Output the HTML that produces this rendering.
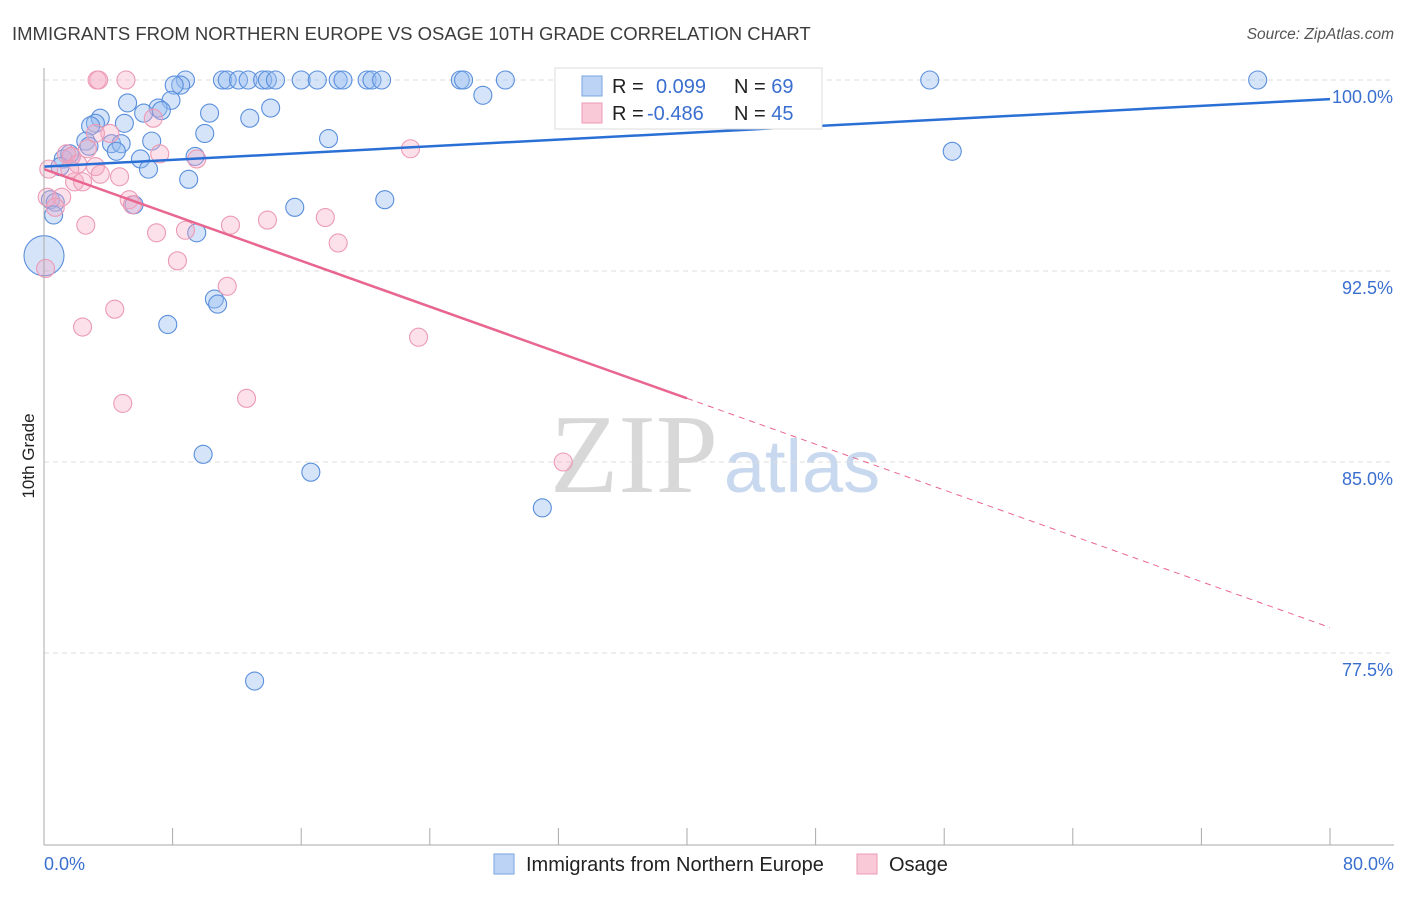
<!DOCTYPE html>
<html><head><meta charset="utf-8"><style>
body{margin:0;background:#fff;font-family:"Liberation Sans",sans-serif}
svg text{font-family:"Liberation Sans",sans-serif}
</style></head><body>
<svg id="c" width="1406" height="892">
<text x="12" y="40" font-size="18.5" fill="#3c3c3c">IMMIGRANTS FROM NORTHERN EUROPE VS OSAGE 10TH GRADE CORRELATION CHART</text>
<text x="1394" y="39" font-size="15.5" fill="#555" font-style="italic" text-anchor="end">Source: ZipAtlas.com</text>
<text x="634" y="492" font-size="112" fill="#d8d8d8" text-anchor="middle" style="font-family:'Liberation Serif',serif">ZIP</text>
<text x="802" y="492" font-size="74" fill="#c8d8ef" text-anchor="middle">atlas</text>
<g id="grid"></g><g id="pts"></g><g id="lines"></g>
<line x1="44" y1="68" x2="44" y2="845" stroke="#aaa"/>
<line x1="44" y1="845" x2="1394" y2="845" stroke="#aaa"/>
<text transform="translate(34,456) rotate(-90)" font-size="17" fill="#222" text-anchor="middle">10th Grade</text>
<text x="44" y="870" font-size="18" fill="#3a6fd0">0.0%</text>
<text x="1394" y="870" font-size="18" fill="#3a6fd0" text-anchor="end">80.0%</text>
<rect x="555" y="68" width="267" height="61" fill="#fff" stroke="#ddd"/>
<rect x="582" y="76" width="20" height="20" fill="#bcd3f5" stroke="#7aa3e0"/>
<rect x="582" y="103" width="20" height="20" fill="#f9c9d8" stroke="#eb9ab4"/>
<text x="612" y="93" font-size="20" fill="#222">R = <tspan fill="#3a6fd0" x="656">0.099</tspan><tspan x="734">N = </tspan><tspan fill="#3a6fd0">69</tspan></text>
<text x="612" y="120" font-size="20" fill="#222">R = <tspan fill="#3a6fd0" x="647">-0.486</tspan><tspan x="734">N = </tspan><tspan fill="#3a6fd0">45</tspan></text>
<rect x="494" y="854" width="20" height="20" fill="#bcd3f5" stroke="#7aa3e0"/>
<text x="526" y="871" font-size="20" fill="#222">Immigrants from Northern Europe</text>
<rect x="857" y="854" width="20" height="20" fill="#f9c9d8" stroke="#eb9ab4"/>
<text x="889" y="871" font-size="20" fill="#222">Osage</text>
</svg>
<script>
const yTicks=[100,92.5,85,77.5];
const yTickLabels=["100.0%","92.5%","85.0%","77.5%"];
const xTicks=[0,8,16,24,32,40,48,56,64,72,80];
const blueX=[33.0,8.8,8.5,8.1,11.1,11.4,12.1,12.7,13.6,13.9,14.4,16.0,17.0,18.3,18.6,20.1,20.4,21.0,25.9,26.1,28.7,55.1,75.5,5.2,7.9,7.1,7.3,6.2,10.3,14.1,27.3,3.5,3.2,5.0,2.9,12.8,10.0,2.6,6.7,4.2,4.8,2.8,4.5,17.7,6.0,9.4,56.5,1.2,1.7,6.5,9.0,0.4,0.7,5.6,15.6,21.2,0.6,9.5,10.6,10.8,7.7,9.9,16.6,31.0,13.1,1.6,1.0,0.0];
const blueY=[100,100,99.8,99.8,100,100,100,100,100,100,100,100,100,100,100,100,100,100,100,100,100,100,100,99.1,99.2,98.9,98.8,98.7,98.7,98.9,99.4,98.5,98.3,98.3,98.2,98.5,97.9,97.6,97.6,97.5,97.5,97.4,97.2,97.7,96.9,97.0,97.2,96.9,97.0,96.5,96.1,95.3,95.2,95.1,95.0,95.3,94.7,94.0,91.4,91.2,90.4,85.3,84.6,83.2,76.4,97.1,96.6,93.1];
const blueR=[9,9,9,9,9,9,9,9,9,9,9,9,9,9,9,9,9,9,9,9,9,9,9,9,9,9,9,9,9,9,9,9,9,9,9,9,9,9,9,9,9,9,9,9,9,9,9,9,9,9,9,9,9,9,9,9,9,9,9,9,9,9,9,9,9,9,9,20];
const pinkX=[3.3,3.4,5.1,4.1,6.8,2.7,1.4,1.7,2.1,3.2,3.5,1.9,2.4,4.7,7.2,9.5,22.8,0.3,5.3,5.5,0.2,1.1,0.7,2.6,7.0,8.8,11.6,13.9,17.5,18.3,8.3,11.4,4.4,2.4,23.3,4.9,12.6,32.3,0.1,3.2,1.6];
const pinkY=[100,100,100,97.9,98.5,97.3,97.1,97.0,96.7,96.6,96.3,96.0,96.0,96.2,97.1,96.9,97.3,96.5,95.3,95.1,95.4,95.4,95.0,94.3,94.0,94.1,94.3,94.5,94.6,93.6,92.9,91.9,91.0,90.3,89.9,87.3,87.5,85.0,92.6,97.9,96.5];
const blueTrend=[96.6,99.25];
const pinkTrend=[96.5,78.5];
const pinkSolidEnd=40;
const X=v=>44+v/80*1286, Y=v=>80+(100-v)/30*764;
const NS="http://www.w3.org/2000/svg";
function mk(t,a,p){const e=document.createElementNS(NS,t);for(const k in a)e.setAttribute(k,a[k]);p.appendChild(e);return e;}
const g=document.getElementById('grid'),pts=document.getElementById('pts'),ln=document.getElementById('lines');
yTicks.forEach((v,i)=>{
 const l=mk('line',{x1:44,x2:1394,y1:Y(v),y2:Y(v),stroke:'#ddd','stroke-dasharray':'5,4'},g);
 
 
 const t=mk('text',{x:1393,y:Y(v)+23,'font-size':18,fill:'#3a6fd0','text-anchor':'end'},g);
 t.textContent=yTickLabels[i];
 
 
});
xTicks.forEach(v=>{
 const l=mk('line',{x1:X(v),x2:X(v),y1:828,y2:845,stroke:'#aaa'},g);
 
 
});
blueX.forEach((v,i)=>{
 const c=mk('circle',{cx:X(v),cy:Y(blueY[i]),r:blueR[i],fill:'rgba(150,188,240,0.4)',stroke:'#5a8fdc','stroke-width':1.1},pts);
 
 
});
pinkX.forEach((v,i)=>{
 const c=mk('circle',{cx:X(v),cy:Y(pinkY[i]),r:9,fill:'rgba(245,170,195,0.35)',stroke:'#ec9ab5','stroke-width':1.1},pts);
 
 
});
const bl=mk('line',{x1:X(0),y1:Y(blueTrend[0]),x2:X(80),y2:Y(blueTrend[1]),stroke:'#2a6fd6','stroke-width':2.5},ln);


const pv=x=>pinkTrend[0]+(pinkTrend[1]-pinkTrend[0])*x/80;
const pl=mk('line',{x1:X(0),y1:Y(pv(0)),x2:X(pinkSolidEnd),y2:Y(pv(pinkSolidEnd)),stroke:'#e8668f','stroke-width':2.5},ln);


const pd=mk('line',{x1:X(pinkSolidEnd),y1:Y(pv(pinkSolidEnd)),x2:X(80),y2:Y(pv(80)),stroke:'#e8668f','stroke-width':1,'stroke-dasharray':'6,5'},ln);


</script>
</body></html>
